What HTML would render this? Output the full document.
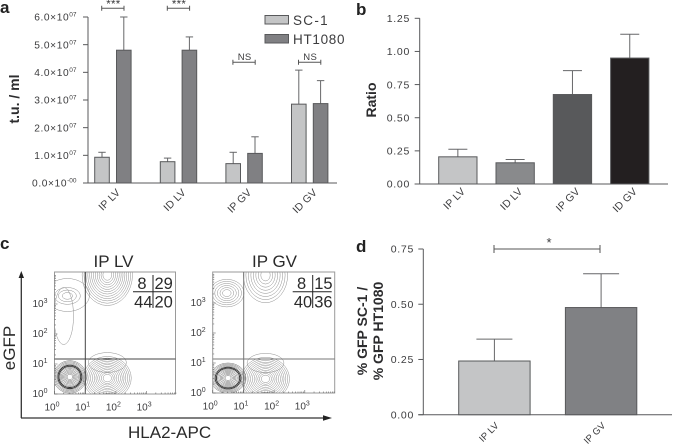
<!DOCTYPE html>
<html lang="en">
<head>
<meta charset="utf-8">
<title>Transduction figure</title>
<style>
html,body{margin:0;padding:0;background:#fff;width:673px;height:445px;overflow:hidden}
svg{display:block;filter:blur(0.35px)}
text{font-family:"Liberation Sans",sans-serif;fill:#3c3c3e}
.tick{font-size:10.5px;letter-spacing:.7px}
.panel{font-size:17px;font-weight:bold;fill:#222}
.ytitle{font-size:14px;font-weight:bold;fill:#2c2c2e}
.big{font-size:17px;fill:#2a2a2a}
.quad{font-size:16.5px;fill:#2a2a2a}
</style>
</head>
<body>
<svg id="fig" xmlns="http://www.w3.org/2000/svg" width="673" height="445" viewBox="0 0 673 445">
  <rect width="673" height="445" fill="#fff"/>
  <defs>
    <clipPath id="clip1"><rect x="54.5" y="272" width="121" height="122"/></clipPath>
    <clipPath id="clip2"><rect x="212.7" y="272" width="122" height="121"/></clipPath>
  </defs>

  <g id="panelA">
    <text class="panel" x="0" y="13">a</text>
    <text class="ytitle" transform="translate(19,99) rotate(-90)" text-anchor="middle">t.u. / ml</text>
    <rect x="265" y="15.5" width="23.5" height="8.5" fill="#c4c5c6" stroke="#58595b"/>
    <text x="293" y="25" font-size="13.5" letter-spacing="1.3">SC-1</text>
    <rect x="265" y="34.5" width="23.5" height="8.5" fill="#808083" stroke="#58595b"/>
    <text x="293" y="44" font-size="13.5" letter-spacing=".7">HT1080</text>
  </g>
  <g id="panelB">
    <text class="panel" x="356" y="15">b</text>
    <text class="ytitle" transform="translate(376,100) rotate(-90)" text-anchor="middle">Ratio</text>
  </g>
  <g id="panelC">
    <text class="panel" x="0" y="249">c</text>
    <text class="big" x="113.5" y="267" text-anchor="middle">IP LV</text>
    <text class="big" x="274.5" y="267" text-anchor="middle">IP GV</text>
    <line x1="21.3" y1="418" x2="21.3" y2="278" stroke="#333" stroke-width="1.3"/>
    <polygon points="21.3,271 18.6,278 24,278" fill="#222"/>
    <line x1="21" y1="418" x2="324" y2="418" stroke="#333" stroke-width="1.3"/>
    <polygon points="332,418 323,415.3 323,420.7" fill="#222"/>
    <text class="big" transform="translate(15,348) rotate(-90)" text-anchor="middle">eGFP</text>
    <text class="big" x="128" y="438">HLA2-APC</text>
  </g>
  <g id="panelD">
    <text class="panel" x="356" y="252">d</text>
    <text class="ytitle" transform="translate(367,331) rotate(-90)" text-anchor="middle">% GFP SC-1 /</text>
    <text class="ytitle" transform="translate(383,331) rotate(-90)" text-anchor="middle">% GFP HT1080</text>
  </g>
</svg>

<script>
// ---------- panel a data ----------
const aCategories = ['IP LV', 'ID LV', 'IP GV', 'ID GV'];
const aSC1Values = [0.93, 0.77, 0.70, 2.85];
const aSC1Upper = [1.11, 0.90, 1.11, 4.08];
const aHTValues = [4.80, 4.80, 1.07, 2.87];
const aHTUpper = [6.00, 5.28, 1.67, 3.70];
const aTicks = [0, 1, 2, 3, 4, 5, 6];
const aTickLabels = ['0.0', '1.0', '2.0', '3.0', '4.0', '5.0', '6.0'];
const aTickExponents = ['-00', '07', '07', '07', '07', '07', '07'];
const aSignificance = ['***', '***', 'NS', 'NS'];

// ---------- panel b data ----------
const bCategories = ['IP LV', 'ID LV', 'IP GV', 'ID GV'];
const bValues = [0.205, 0.16, 0.675, 0.95];
const bUpper = [0.262, 0.185, 0.855, 1.13];
const bTicks = [0, 0.25, 0.5, 0.75, 1, 1.25];
const bTickLabels = ['0.00', '0.25', '0.50', '0.75', '1.00', '1.25'];

// ---------- panel c data (log10 units) ----------
const flowDecades = [0, 1, 2, 3];
const lvPopLogX = [0.50, 1.72, 1.72, 0.42, 0.42, 0.30, 1.72];
const lvPopLogY = [0.57, 0.53, 3.97, 3.27, 3.30, 2.60, 1.05];
const lvPopSpreadX = [0.54, 0.78, 0.82, 0.42, 0.72, 0.32, 0.62];
const lvPopSpreadY = [0.54, 0.72, 1.02, 0.28, 0.55, 0.95, 0.33];
const lvPopLevels = [13, 12, 12, 3, 1, 1, 1];
const gvPopLogX = [0.50, 1.72, 1.72, 0.46, 1.72];
const gvPopLogY = [0.50, 0.47, 3.93, 3.33, 1.00];
const gvPopSpreadX = [0.58, 0.78, 0.72, 0.56, 0.60];
const gvPopSpreadY = [0.50, 0.72, 0.92, 0.46, 0.32];
const gvPopLevels = [13, 12, 8, 6, 1];
const lvQuadrants = ['8', '29', '44', '20'];
const gvQuadrants = ['8', '15', '40', '36'];

// ---------- panel d data ----------
const dCategories = ['IP LV', 'IP GV'];
const dValues = [0.243, 0.485];
const dUpper = [0.342, 0.638];
const dTicks = [0, 0.25, 0.5, 0.75];
const dTickLabels = ['0.00', '0.25', '0.50', '0.75'];

const NS = 'http://www.w3.org/2000/svg';
function mk(tag, attrs, parent) {
  const el = document.createElementNS(NS, tag);
  for (const k in attrs) el.setAttribute(k, attrs[k]);
  parent.appendChild(el);
  return el;
}
function linear(d0, d1, r0, r1) {
  return function (v) { return r0 + (v - d0) / (d1 - d0) * (r1 - r0); };
}
const AXIS = '#58595b';

function drawAxes(parent, prefix, x0, xEnd, y, ticks, labels, labelX) {
  const top = y(ticks[ticks.length - 1]);
  const base = y(0);
  const yAxis = mk('line', {x1: x0, x2: x0, y1: top, y2: base, stroke: AXIS, 'stroke-width': 1}, parent);
  
  
  const xAxis = mk('line', {x1: x0 - 5, x2: xEnd, y1: base, y2: base, stroke: AXIS, 'stroke-width': 1}, parent);
  
  
  ticks.forEach(function (t, i) {
    const tk = mk('line', {x1: x0 - 5, x2: x0, y1: y(t), y2: y(t), stroke: AXIS, 'stroke-width': 1}, parent);
    
    
    if (labels) {
      const lb = mk('text', {x: labelX, y: y(t) + 3.7, 'text-anchor': 'end', class: 'tick'}, parent);
      
      
      lb.textContent = labels[i];
    }
  });
}

function drawBar(parent, name, x, w, y, value, upper, fill, capHalf) {
  const cx = x + w / 2;
  const stem = mk('line', {x1: cx, x2: cx, y1: y(upper), y2: y(value), stroke: '#666769', 'stroke-width': 1}, parent);
  
  
  const cap = mk('line', {x1: cx - capHalf, x2: cx + capHalf, y1: y(upper), y2: y(upper), stroke: '#666769', 'stroke-width': 1}, parent);
  
  
  const bar = mk('rect', {x: x, y: y(value), width: w, height: y(0) - y(value), fill: fill, stroke: AXIS, 'stroke-width': 1}, parent);
  
  
}

function catLabel(parent, name, text, x, y, size) {
  const t = mk('text', {transform: 'translate(' + x + ',' + y + ') rotate(-45)', 'text-anchor': 'end', 'font-size': size, 'letter-spacing': '.2'}, parent);
  
  
  t.textContent = text;
}

function bracket(parent, name, x1, x2, y, tick) {
  const p = mk('path', {d: 'M' + x1 + ' ' + (y - tick) + 'V' + (y + tick) + 'M' + x1 + ' ' + y + 'H' + x2 + 'M' + x2 + ' ' + (y - tick) + 'V' + (y + tick), fill: 'none', stroke: '#555', 'stroke-width': 1}, parent);
  
  
}

// ---------- panel a ----------
(function () {
  const g = document.getElementById('panelA');
  const y = linear(0, 6, 183, 17);
  drawAxes(g, 'panel-a', 88, 337, y, aTicks, null, 0);
  aTicks.forEach(function (t, i) {
    const lb = mk('text', {x: 76.5, y: y(t) + 3.7, 'text-anchor': 'end', class: 'tick', style: 'font-size:10.2px;letter-spacing:.6px'}, g);
    
    
    lb.textContent = aTickLabels[i] + '\u00d710';
    const ex = mk('tspan', {dy: -4, 'font-size': 6.5, 'letter-spacing': 0}, lb);
    ex.textContent = aTickExponents[i];
  });
  const barW = 14.6, gap = 7.2, step = 65.6, start = 94.7;
  aCategories.forEach(function (c, i) {
    const x1 = start + i * step, x2 = x1 + barW + gap;
    drawBar(g, 'bar-sc1-' + i, x1, barW, y, aSC1Values[i], aSC1Upper[i], '#c4c5c6', 3.7);
    drawBar(g, 'bar-ht1080-' + i, x2, barW, y, aHTValues[i], aHTUpper[i], '#808083', 3.7);
    const mid = x1 + barW + gap / 2;
    catLabel(g, 'panel-a-category-label', c, mid + 8, 193, 10.5);
    const by = i < 2 ? 8.3 : 62.3;
    bracket(g, 'significance-bracket-' + i, x1 + 7, x2 + 7.5, by, 2.5);
    const s = mk('text', {x: mid + 0.5, y: i < 2 ? 8 : 60, 'text-anchor': 'middle', 'font-size': i < 2 ? 11.5 : 9.5, 'letter-spacing': '.3'}, g);
    
    
    s.textContent = aSignificance[i];
  });
})();

// ---------- panel b ----------
(function () {
  const g = document.getElementById('panelB');
  const y = linear(0, 1.25, 184, 18.3);
  drawAxes(g, 'panel-b', 419.7, 668, y, bTicks, bTickLabels, 410);
  const fills = ['#c4c5c6', '#898a8c', '#58595b', '#231f20'];
  const barW = 38.3, step = 57.3, start = 438.7;
  bCategories.forEach(function (c, i) {
    const x = start + i * step;
    drawBar(g, 'bar-ratio-' + i, x, barW, y, bValues[i], bUpper[i], fills[i], 9.5);
    catLabel(g, 'panel-b-category-label', c, x + barW / 2 + 8, 192, 10.5);
  });
})();

// ---------- panel c ----------
function drawFlow(prefix, boxX, boxTop, boxW, boxBottom, clip, vx, hy, lineColor, popX, popY, spX, spY, levels, quad, qx) {
  const g = document.getElementById('panelC');
  const xs = linear(0, 1, boxX, boxX + 30.7);
  const ys = linear(0, 1, boxBottom, boxBottom - 30);
  const contours = mk('g', {'clip-path': 'url(#' + clip + ')', fill: 'none'}, g);
  
  
  popX.forEach(function (lx, p) {
    const n = levels[p];
    for (let k = 0; k < n; k++) {
      const f = n === 1 ? 1 : 1 - k / n * 0.9;
      const rx = xs(spX[p] * f) - xs(0);
      const ry = ys(0) - ys(spY[p] * f);
      const heavy = n > 12 && (k === 4 || k === 5);
      const ink = heavy ? '#2e2e2e' : (n > 12 ? '#6e6e6e' : '#8f8f8f');
      const e = mk('ellipse', {cx: xs(lx), cy: ys(popY[p]), rx: rx, ry: ry, stroke: ink, 'stroke-width': heavy ? 0.9 : 0.5}, contours);
      
      
    }
  });
  const box = mk('rect', {x: boxX, y: boxTop, width: boxW, height: boxBottom - boxTop, fill: 'none', stroke: '#9a9a9a', 'stroke-width': 1}, g);
  
  
  const qv = mk('line', {x1: vx, x2: vx, y1: boxTop, y2: boxBottom, stroke: lineColor, 'stroke-width': 1}, g);
  
  
  const qh = mk('line', {x1: boxX, x2: boxX + boxW, y1: hy, y2: hy, stroke: lineColor, 'stroke-width': 1}, g);
  
  
  flowDecades.forEach(function (d) {
    for (let m = 1; m < 10; m++) {
      const v = d + Math.log10(m);
      const len = m === 1 ? 3 : 1.5;
      const tx = mk('line', {x1: xs(v), x2: xs(v), y1: boxBottom - len, y2: boxBottom, stroke: '#666', 'stroke-width': .6}, g);
      
      
      if (ys(v) > boxTop) {
        const ty = mk('line', {x1: boxX, x2: boxX + len, y1: ys(v), y2: ys(v), stroke: '#666', 'stroke-width': .6}, g);
        
        
      }
    }
    const lx = mk('text', {x: xs(d) - 2.5, y: boxBottom + 16.5, 'text-anchor': 'middle', 'font-size': 10}, g);
    
    
    lx.textContent = '10';
    const sx = mk('tspan', {dy: -4, 'font-size': 7}, lx);
    sx.textContent = d;
    const ly = mk('text', {x: boxX - 7, y: ys(d) + 3, 'text-anchor': 'end', 'font-size': 10}, g);
    
    
    ly.textContent = '10';
    const sy = mk('tspan', {dy: -4, 'font-size': 7}, ly);
    sy.textContent = d;
  });
  const qh2 = mk('line', {x1: qx - 20, x2: qx + 19, y1: 291.7, y2: 291.7, stroke: '#222', 'stroke-width': 1}, g);
  
  
  const qv2 = mk('line', {x1: qx, x2: qx, y1: 275, y2: 308, stroke: '#222', 'stroke-width': 1}, g);
  
  
  quad.forEach(function (q, i) {
    const right = i % 2 === 1;
    const t = mk('text', {x: right ? qx + 1.5 : qx - 0.5 - (i === 0 ? 6 : 0), y: i < 2 ? 289 : 307.5, 'text-anchor': right ? 'start' : 'end', class: 'quad'}, g);
    
    
    t.textContent = q;
  });
}
drawFlow('ip-lv', 54.5, 272, 121, 394, 'clip1', 85.3, 359, '#444', lvPopLogX, lvPopLogY, lvPopSpreadX, lvPopSpreadY, lvPopLevels, lvQuadrants, 153);
drawFlow('ip-gv', 212.7, 272, 122, 393, 'clip2', 243.7, 359, '#777', gvPopLogX, gvPopLogY, gvPopSpreadX, gvPopSpreadY, gvPopLevels, gvQuadrants, 312.7);

// ---------- panel d ----------
(function () {
  const g = document.getElementById('panelD');
  const y = linear(0, 0.75, 414.7, 249);
  drawAxes(g, 'panel-d', 423.3, 672, y, dTicks, dTickLabels, 414);
  const fills = ['#c4c5c6', '#808184'];
  const barW = 71.4, step = 106.7, start = 458.7;
  dCategories.forEach(function (c, i) {
    const x = start + i * step;
    drawBar(g, 'bar-gfp-ratio-' + i, x, barW, y, dValues[i], dUpper[i], fills[i], 18);
    catLabel(g, 'panel-d-category-label', c, x + barW / 2 + 5, 426, 9.5);
  });
  bracket(g, 'significance-bracket-d', 494, 600, 249, 4);
  const s = mk('text', {x: 549, y: 247, 'text-anchor': 'middle', 'font-size': 13}, g);
  
  
  s.textContent = '*';
})();
</script>
</body>
</html>
